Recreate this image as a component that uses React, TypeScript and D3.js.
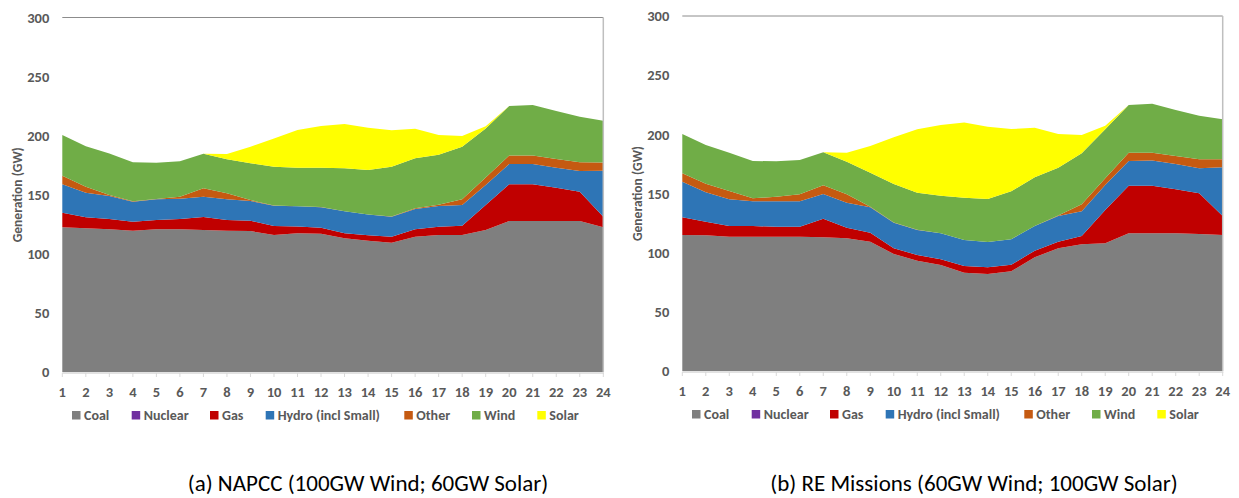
import React from 'react';
import * as d3 from 'd3';

const hours = d3.range(1, 25);
const seriesNames = ['Coal', 'Nuclear', 'Gas', 'Hydro (incl Small)', 'Other', 'Wind', 'Solar'];
const seriesColors = ['#7f7f7f', '#7030a0', '#c00000', '#2e75b6', '#c55a11', '#70ad47', '#ffff00'];
const yTicks = [0, 50, 100, 150, 200, 250, 300];

// (a) NAPCC
const coalA = [122.4, 121.6, 120.7, 119.6, 120.7, 120.7, 120.2, 119.6, 119.3, 115.9, 117.4, 117.0, 113.1, 111.1, 109.4, 114.5, 115.9, 115.9, 120.2, 127.8, 127.8, 127.8, 127.8, 122.4];
const nuclearA = hours.map(() => 0);
const gasA = [12.4, 9.3, 8.8, 7.6, 7.9, 8.8, 11.0, 9.0, 8.7, 7.6, 5.8, 5.1, 4.3, 4.6, 5.1, 6.2, 7.1, 7.9, 21.1, 31.0, 31.0, 28.2, 24.8, 9.0];
const hydroA = [24.0, 20.8, 19.4, 16.9, 17.5, 17.2, 17.2, 17.5, 16.7, 17.2, 17.0, 17.4, 18.6, 17.5, 16.9, 17.2, 17.5, 17.5, 16.9, 17.2, 17.2, 16.9, 17.5, 38.9];
const otherA = [7.2, 5.1, 0.9, 0.4, 0.4, 1.7, 7.0, 5.1, 0.8, 0.2, 0.1, 0.1, 0.1, 0.1, 0.1, 0.6, 1.0, 4.8, 6.5, 7.3, 7.3, 7.3, 7.4, 6.9];
const windA = [34.6, 34.2, 35.2, 33.0, 30.5, 29.9, 29.3, 28.8, 31.1, 32.8, 32.6, 33.3, 36.3, 37.6, 42.2, 42.3, 42.4, 44.6, 41.3, 41.8, 42.7, 40.7, 38.5, 35.5];
const solarA = [0, 0, 0, 0, 0, 0, 0, 4.5, 14.1, 24.0, 31.9, 35.3, 37.5, 35.9, 30.8, 25.1, 16.7, 9.0, 2.0, 0, 0, 0, 0, 0];

// (b) RE Missions
const coalB = [114.9, 114.7, 113.5, 113.5, 113.5, 113.5, 113.0, 112.1, 109.3, 98.9, 93.2, 89.6, 83.1, 82.0, 84.3, 96.1, 103.7, 107.1, 107.9, 116.4, 116.4, 116.4, 115.8, 114.9];
const nuclearB = hours.map(() => 0);
const gasB = [15.0, 11.5, 9.0, 9.0, 8.4, 8.4, 15.7, 9.0, 7.6, 4.8, 4.8, 4.8, 5.6, 5.6, 5.5, 5.6, 5.6, 7.0, 28.1, 40.2, 40.2, 37.1, 34.4, 16.1];
const hydroB = [30.1, 24.8, 22.6, 20.9, 21.5, 21.5, 20.9, 21.1, 21.4, 21.6, 21.2, 22.0, 22.0, 21.4, 21.5, 20.8, 21.7, 20.9, 21.2, 20.9, 21.2, 21.4, 21.1, 41.1];
const otherB = [7.1, 7.3, 7.0, 2.5, 3.9, 5.9, 7.3, 7.1, 0.5, 0.1, 0.1, 0.1, 0.1, 0.1, 0.1, 0.1, 0.5, 5.9, 5.6, 7.0, 6.7, 6.8, 7.6, 6.8];
const windB = [33.2, 32.7, 32.4, 31.6, 29.9, 29.0, 27.9, 27.6, 28.8, 32.6, 31.4, 31.7, 35.7, 36.3, 40.5, 41.1, 40.3, 43.1, 41.4, 40.3, 41.4, 38.9, 36.9, 33.8];
const solarB = [0, 0, 0, 0, 0, 0, 0, 7.6, 22.5, 39.5, 53.5, 59.7, 63.4, 61.1, 52.6, 41.9, 28.5, 15.4, 3.1, 0, 0, 0, 0, 0];

const captionA = '(a) NAPCC (100GW Wind; 60GW Solar)';
const captionB = '(b) RE Missions (60GW Wind; 100GW Solar)';

const FONT = 'Carlito, Lato, sans-serif';
const legendOffsets = [9.7, 69.4, 147.7, 203.4, 342, 409.7, 475];

type Props = {
  x0: number; x1: number; yTop: number; yBottom: number;
  series: number[][]; caption: string; captionX: number;
};

function Panel({ x0, x1, yTop, yBottom, series, caption, captionX }: Props) {
  const x = d3.scaleLinear().domain([1, 24]).range([x0, x1]);
  const y = d3.scaleLinear().domain([0, 300]).range([yBottom, yTop]);
  const table = hours.map((h, i) => {
    const row: Record<string, number> = { hour: h };
    seriesNames.forEach((k, j) => { row[k] = series[j][i]; });
    return row;
  });
  const stacked = d3.stack<Record<string, number>>().keys(seriesNames)(table);
  const area = d3.area<d3.SeriesPoint<Record<string, number>>>()
    .x(d => x(d.data.hour))
    .y0(d => y(d[0]))
    .y1(d => y(d[1]));

  return (
    <g>
      {stacked.map((s, j) => (
        <path key={s.key} d={area(s) || ''} fill={seriesColors[j]} />
      ))}
      <line x1={x0} x2={x1} y1={yTop} y2={yTop} stroke="#8c8c8c" strokeWidth={1} />
      <line x1={x1} x2={x1} y1={yTop} y2={yBottom} stroke="#bfbfbf" strokeWidth={1.5} />
      <line x1={x0} x2={x1 + 0.7} y1={yBottom + 1} y2={yBottom + 1} stroke="#d9d9d9" strokeWidth={1.5} />
      {hours.map(h => (
        <line key={'t' + h} x1={x(h)} x2={x(h)} y1={yBottom + 1} y2={yBottom + 5} stroke="#d9d9d9" strokeWidth={1} />
      ))}
      {yTicks.map(t => (
        <text key={'y' + t} x={x0 - 13} y={y(t)} dy="0.36em" textAnchor="end"
          fontFamily={FONT} fontWeight="bold" fontSize={14.5} fill="#595959">{t}</text>
      ))}
      {hours.map(h => (
        <text key={'x' + h} x={x(h)} y={yBottom + 25} textAnchor="middle"
          fontFamily={FONT} fontWeight="bold" fontSize={14.5} fill="#595959">{h}</text>
      ))}
      <text transform={`translate(${x0 - 44.8},${(yTop + yBottom) / 2}) rotate(-90)`} textAnchor="middle"
        dy="0.35em" fontFamily={FONT} fontWeight="bold" fontSize={13.5} fill="#595959">Generation (GW)</text>
      {seriesNames.map((n, j) => (
        <g key={'l' + n} transform={`translate(${x0 + legendOffsets[j]},${yBottom + 39})`}>
          <rect x={0} y={0} width={8.5} height={8.5} fill={seriesColors[j]} />
          <text x={12} y={9.2} fontFamily={FONT} fontWeight="bold" fontSize={14} fill="#595959">{n}</text>
        </g>
      ))}
      <text x={captionX} y={491} textAnchor="middle" fontFamily={FONT} fontSize={23} fill="#000">{caption}</text>
    </g>
  );
}

export default function App() {
  return (
    <svg width={1239} height={498} style={{ position: 'absolute', left: 0, top: 0, background: '#fff' }}>
      <rect width={1239} height={498} fill="#fff" />
      <Panel x0={62.3} x1={603.3} yTop={17.5} yBottom={372}
        series={[coalA, nuclearA, gasA, hydroA, otherA, windA, solarA]} caption={captionA} captionX={368} />
      <Panel x0={682.3} x1={1222.7} yTop={16} yBottom={371}
        series={[coalB, nuclearB, gasB, hydroB, otherB, windB, solarB]} caption={captionB} captionX={974} />
    </svg>
  );
}
